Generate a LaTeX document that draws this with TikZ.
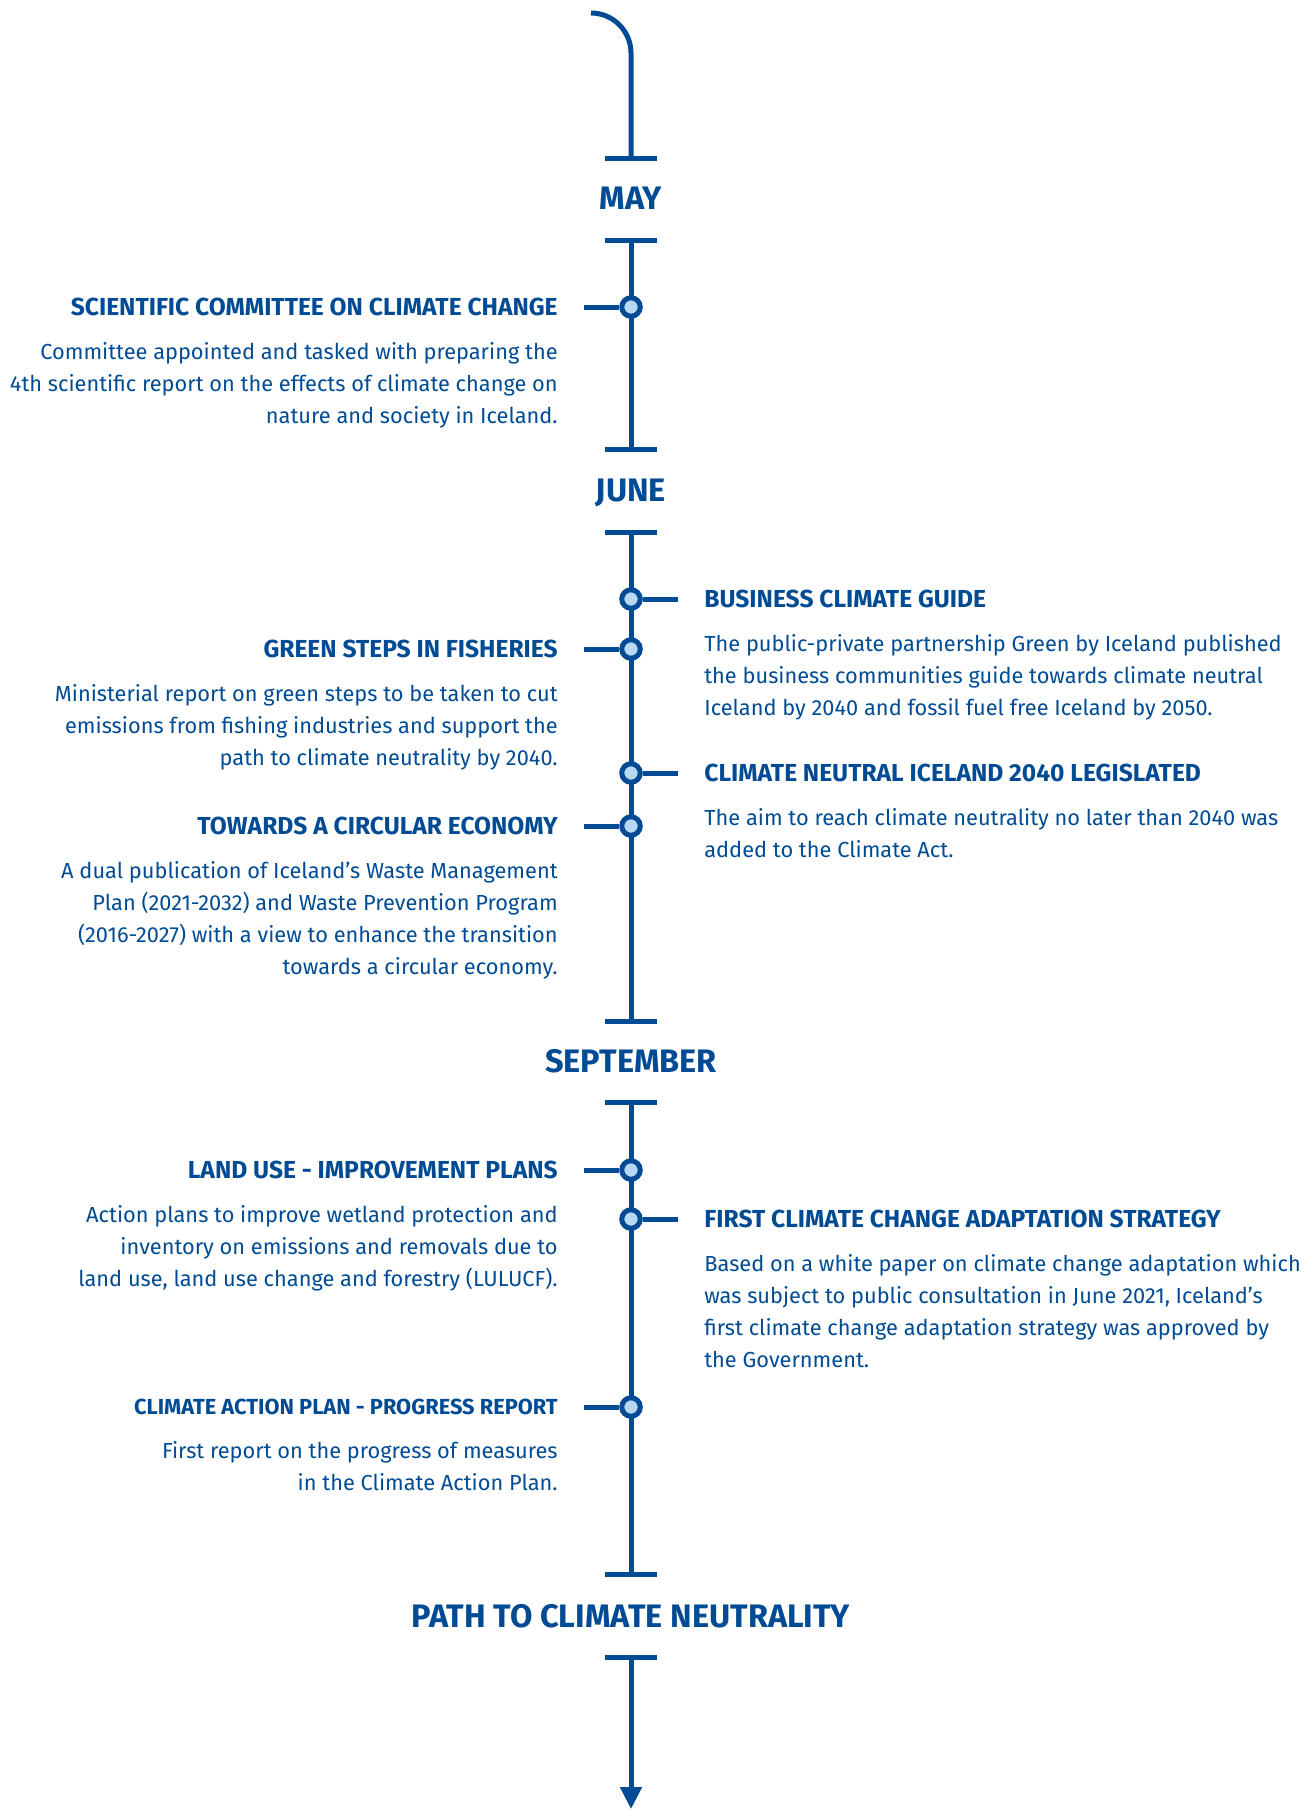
\documentclass[tikz,border=0pt]{standalone}
\usepackage{fontspec}
\setmainfont{Fira Sans}
\usetikzlibrary{arrows.meta,positioning}
\definecolor{tlblue}{HTML}{004B93}
\definecolor{tldot}{HTML}{B8D8F2}
\tikzset{
  % spine of the timeline, its cross bars and the event dots
  spine/.style={draw=tlblue, line width=0.1cm},
  dot/.style={circle, draw=tlblue, fill=tldot, line width=0.1cm, minimum size=0.37cm, inner sep=0pt},
  month/.style={text=tlblue, inner sep=0pt, font=\fontsize{18.5}{20}\selectfont\bfseries},
  head/.style={text=tlblue, inner sep=0pt, font=\fontsize{14}{16}\selectfont\bfseries},
  desc/.style={text=tlblue, inner sep=0pt, font=\fontsize{12.4}{18.2}\selectfont}}

\begin{document}
\begin{tikzpicture}[x=0.02cm, y=-0.02cm]
\useasboundingbox (0,0) rectangle (1314,1809);

% cross bars
\path (631,158) coordinate (t1);
\path (631,240) coordinate (t2);
\path (631,449) coordinate (t3);
\path (631,532) coordinate (t4);
\path (631,1021) coordinate (t5);
\path (631,1102) coordinate (t6);
\path (631,1574) coordinate (t7);
\path (631,1657) coordinate (t8);
\path (591,13) coordinate (top);
\path (631,1809) coordinate (bottom);

\foreach \t in {t1,t2,t3,t4,t5,t6,t7,t8}
  \draw [spine] (\t) ++(-26,0) -- ++(52,0);

% months
\draw (631,198) node (may) [month] {MAY};
\draw (631,493) node (june) [month] {JUNE};
\draw (631,1061) node (sep) [month] {SEPTEMBER};
\draw (631,1616) node (path) [month] {PATH TO CLIMATE NEUTRALITY};

% spine pieces
\draw [spine] (top) .. controls (613,13) and (631,31) .. (631,53) -- (t1);
\draw [spine] (t2) -- (t3);
\draw [spine] (t4) -- (t5);
\draw [spine] (t6) -- (t7);
\draw [spine, -{Triangle[length=0.44cm, width=0.42cm]}] (t8) -- (bottom);

% events on the left
\draw (631,307) node (e1) [dot] {};
\draw [spine] (e1.west) -- (584,307);
\draw (558,307) node (h1) [head, anchor=east] {SCIENTIFIC COMMITTEE ON CLIMATE CHANGE};
\draw (h1.east) ++(0,35) node (d1) [desc, anchor=north east, align=right]
  {Committee appointed and tasked with preparing the\\4th scientific report on the effects of climate change on\\nature and society in Iceland.};

\draw (631,649) node (e3) [dot] {};
\draw [spine] (e3.west) -- (584,649);
\draw (558,649) node (h3) [head, anchor=east] {GREEN STEPS IN FISHERIES};
\draw (h3.east) ++(0,35) node (d3) [desc, anchor=north east, align=right]
  {Ministerial report on green steps to be taken to cut\\emissions from fishing industries and support the\\path to climate neutrality by 2040.};

\draw (631,826) node (e5) [dot] {};
\draw [spine] (e5.west) -- (584,826);
\draw (558,826) node (h5) [head, anchor=east] {TOWARDS A CIRCULAR ECONOMY};
\draw (h5.east) ++(0,35) node (d5) [desc, anchor=north east, align=right]
  {A dual publication of Iceland’s Waste Management\\Plan (2021-2032) and Waste Prevention Program\\(2016-2027) with a view to enhance the transition\\towards a circular economy.};

\draw (631,1170) node (e6) [dot] {};
\draw [spine] (e6.west) -- (584,1170);
\draw (558,1170) node (h6) [head, anchor=east] {LAND USE - IMPROVEMENT PLANS};
\draw (h6.east) ++(0,35) node (d6) [desc, anchor=north east, align=right]
  {Action plans to improve wetland protection and\\inventory on emissions and removals due to\\land use, land use change and forestry (LULUCF).};

\draw (631,1407) node (e8) [dot] {};
\draw [spine] (e8.west) -- (584,1407);
\draw (558,1407) node (h8) [head, anchor=east, font=\fontsize{12.4}{14}\selectfont\bfseries] {CLIMATE ACTION PLAN - PROGRESS REPORT};
\draw (h8.east) ++(0,34) node (d8) [desc, anchor=north east, align=right]
  {First report on the progress of measures\\in the Climate Action Plan.};

% events on the right
\draw (631,599) node (e2) [dot] {};
\draw [spine] (e2.east) -- (678,599);
\draw (704,599) node (h2) [head, anchor=west] {BUSINESS CLIMATE GUIDE};
\draw (h2.west) ++(0,35) node (d2) [desc, anchor=north west, align=left]
  {The public-private partnership Green by Iceland published\\the business communities guide towards climate neutral\\Iceland by 2040 and fossil fuel free Iceland by 2050.};

\draw (631,773) node (e4) [dot] {};
\draw [spine] (e4.east) -- (678,773);
\draw (704,773) node (h4) [head, anchor=west] {CLIMATE NEUTRAL ICELAND 2040 LEGISLATED};
\draw (h4.west) ++(0,35) node (d4) [desc, anchor=north west, align=left]
  {The aim to reach climate neutrality no later than 2040 was\\added to the Climate Act.};

\draw (631,1219) node (e7) [dot] {};
\draw [spine] (e7.east) -- (678,1219);
\draw (704,1219) node (h7) [head, anchor=west] {FIRST CLIMATE CHANGE ADAPTATION STRATEGY};
\draw (h7.west) ++(0,35) node (d7) [desc, anchor=north west, align=left]
  {Based on a white paper on climate change adaptation which\\was subject to public consultation in June 2021, Iceland’s\\first climate change adaptation strategy was approved by\\the Government.};

\end{tikzpicture}
\end{document}
